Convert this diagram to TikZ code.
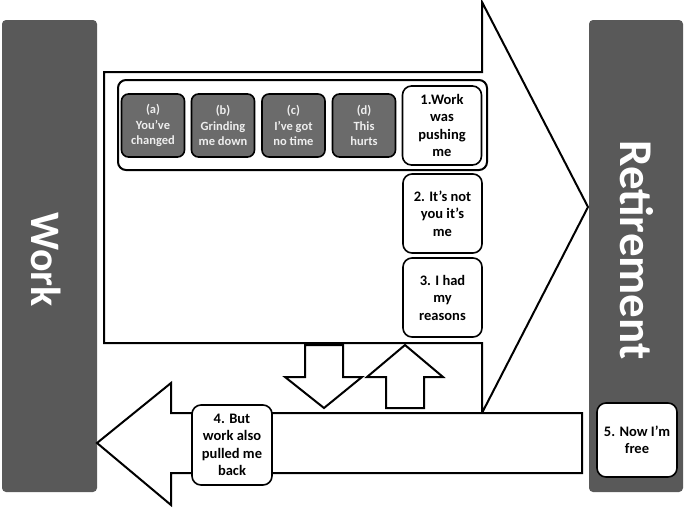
\documentclass[tikz,border=0pt]{standalone}
\usepackage{fontspec}
\setmainfont{Carlito}
\definecolor{barg}{HTML}{595959}
\definecolor{boxg}{HTML}{6B6B6B}
\definecolor{gtext}{HTML}{EEEEEE}
\begin{document}
\begin{tikzpicture}[x=1pt,y=-1pt,
  bar/.style={fill=barg, draw=none, rounded corners=4pt},
  bartext/.style={text=white, font=\bfseries\fontsize{44}{44}\selectfont, rotate=-90},
  outl/.style={draw=black, line width=2pt, fill=white, line join=miter},
  gbox/.style={draw=black, line width=1.6pt, fill=boxg, rounded corners=7pt, text=gtext,
    font=\bfseries\fontsize{12.5}{15.5}\selectfont, align=center, inner sep=0pt},
  wbox/.style={draw=black, line width=1.6pt, fill=white, rounded corners=9pt, text=black,
    font=\bfseries\fontsize{14.5}{17.5}\selectfont, align=center, inner sep=0pt}
]
\useasboundingbox (0,0) rectangle (685,509);
% bars
\fill[bar] (2,20) rectangle (97,492);
\fill[bar] (589,20) rectangle (683,492);
\node[bartext, font=\bfseries\fontsize{42}{42}\selectfont] (work) at (46,260) {Work};
\node[bartext, font=\bfseries\fontsize{47}{47}\selectfont] (ret) at (637,250) {Retirement};
% big right arrow
\draw[outl] (104,72) -- (482,72) -- (482,2) -- (588,207) -- (482,413) -- (482,343) -- (104,343) -- cycle;
% left arrow
\draw[outl] (582,413) -- (171,413) -- (171,383) -- (97,443) -- (171,505) -- (171,473) -- (582,473) -- cycle;
% down and up arrows
\draw[outl] (305,345) -- (343,345) -- (343,377) -- (362,377) -- (324,408) -- (285,377) -- (305,377) -- cycle;
\draw[outl] (405,345) -- (443,377) -- (424,377) -- (424,408) -- (386,408) -- (386,377) -- (367,377) -- cycle;
% inner container
\draw[draw=black, line width=2pt, fill=white, rounded corners=8pt] (118,80) rectangle (487,170);
% gray boxes
\node[gbox, minimum width=63pt, minimum height=63pt] (a) at (153,125.5) {(a)\\You’ve\\changed};
\node[gbox, minimum width=63pt, minimum height=63pt] (b) at (223,125.5) {(b)\\Grinding\\me down};
\node[gbox, minimum width=63pt, minimum height=63pt] (c) at (293.5,125.5) {(c)\\I’ve got\\no time};
\node[gbox, minimum width=63pt, minimum height=63pt] (d) at (364,125.5) {(d)\\This\\hurts};
% white boxes
\node[wbox, minimum width=79pt, minimum height=79pt] (n1) at (442,125.5) {1.Work\\was\\pushing\\me};
\node[wbox, minimum width=79pt, minimum height=79pt] (n2) at (442.5,213.5) {2. It’s not\\you it’s\\me};
\node[wbox, minimum width=79pt, minimum height=79pt] (n3) at (442.5,297.5) {3. I had\\my\\reasons};
\node[wbox, minimum width=80pt, minimum height=80pt] (n4) at (232,445) {4. But\\work also\\pulled me\\back};
\node[wbox, minimum width=80pt, minimum height=74pt] (n5) at (637,440) {5. Now I’m\\free};
\end{tikzpicture}
\end{document}
